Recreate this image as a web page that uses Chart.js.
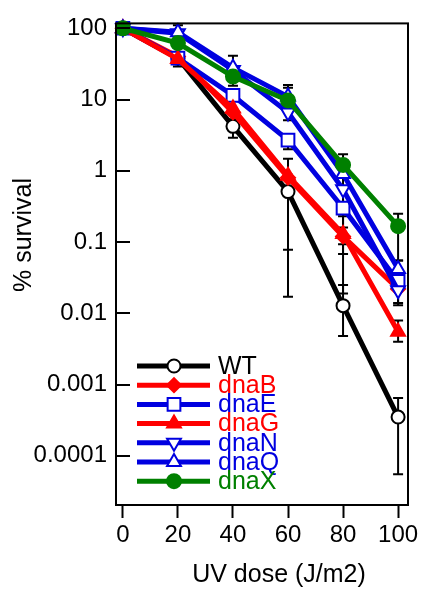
<!DOCTYPE html>
<html>
<head>
<meta charset="utf-8">
<script src="https://cdn.jsdelivr.net/npm/chart.js@4/dist/chart.umd.min.js"></script>
<style>
  html, body { margin: 0; padding: 0; background: #fff; }
  #wrap { width: 429px; height: 589px; }
</style>
</head>
<body>
<div id="wrap"><canvas id="chart"></canvas></div>
<script>
// Chart values
const doses = [0, 20, 40, 60, 80, 100];
const xTicks = [0, 20, 40, 60, 80, 100];
const yTicks = [0.0001, 0.001, 0.01, 0.1, 1, 10, 100];
const yTickLabels = ['0.0001', '0.001', '0.01', '0.1', '1', '10', '100'];

const seriesNames = ['WT', 'dnaB', 'dnaE', 'dnaG', 'dnaN', 'dnaQ', 'dnaX'];
const wt   = [100, 38, 4.2, 0.51, 0.0128, 0.00035];
const dnaB = [100, 40, 6.6, 0.8, 0.12, 0.022];
const dnaE = [100, 38, 11.4, 2.7, 0.3, 0.028];
const dnaG = [100, 37, 7.5, 0.85, 0.13, 0.0055];
const dnaN = [100, 85, 26, 6.6, 0.55, 0.021];
const dnaQ = [100, 88, 28, 11, 0.9, 0.042];
const dnaX = [100, 62, 21, 9.7, 1.21, 0.167];

// error bars [low, high] per dose
const wtErr   = [null, null, [2.9, 5.3], [0.017, 1.47], [0.0048, 0.025], [0.000055, 0.00065]];
const dnaBErr = [null, null, null, [0.078, 0.88], [0.093, 0.13], null];
const dnaEErr = [null, null, null, [2.0, 2.7], [0.16, 0.3], null];
const dnaGErr = [null, null, null, null, [0.068, 0.13], [0.004, 0.0079]];
const dnaNErr = [null, null, null, null, [0.019, 0.55], [0.013, 0.04]];
const dnaQErr = [null, [29, 110], [15.6, 41], [5.1, 16], null, [0.014, 0.055]];
const dnaXErr = [null, null, null, [9.7, 14.6], [0.23, 1.7], [0.055, 0.25]];

const FONT = '"Liberation Sans", Arial, sans-serif';
const RED = '#ff0000';
const BLUE = '#0000e0';
const GREEN = '#008000';

const styles = [
  { color: '#000000', point: 'circle', fill: '#ffffff', r: 6.5, rot: 0 },
  { color: RED, point: 'rectRot', fill: RED, r: 7, rot: 0 },
  { color: BLUE, point: 'rect', fill: '#ffffff', r: 9, rot: 0 },
  { color: RED, point: 'triangle', fill: RED, r: 8, rot: 0 },
  { color: BLUE, point: 'triangle', fill: '#ffffff', r: 8, rot: 180 },
  { color: BLUE, point: 'triangle', fill: '#ffffff', r: 8, rot: 0 },
  { color: GREEN, point: 'circle', fill: GREEN, r: 7, rot: 0 },
];
const values = [wt, dnaB, dnaE, dnaG, dnaN, dnaQ, dnaX];
const errors = [wtErr, dnaBErr, dnaEErr, dnaGErr, dnaNErr, dnaQErr, dnaXErr];

const datasets = seriesNames.map((name, i) => ({
  label: name,
  data: doses.map((d, j) => ({ x: d, y: values[i][j] })),
  borderColor: styles[i].color,
  backgroundColor: styles[i].fill,
  borderWidth: 5,
  pointStyle: styles[i].point,
  pointRadius: styles[i].r,
  pointRotation: styles[i].rot,
  pointBorderColor: styles[i].color,
  pointBackgroundColor: styles[i].fill,
  pointBorderWidth: 2,
  tension: 0,
  clip: false,
  order: seriesNames.length - i,
  errs: errors[i],
}));

// error bars, drawn behind the lines
const errorBars = {
  id: 'errorBars',
  beforeDatasetsDraw(chart) {
    const { ctx, scales: { x, y } } = chart;
    ctx.save();
    ctx.strokeStyle = '#000';
    ctx.lineWidth = 2;
    chart.data.datasets.forEach(ds => {
      ds.errs.forEach((e, j) => {
        if (!e) return;
        const px = x.getPixelForValue(doses[j]);
        const lo = y.getPixelForValue(e[0]);
        const hi = y.getPixelForValue(e[1]);
        ctx.beginPath();
        ctx.moveTo(px, lo); ctx.lineTo(px, hi);
        ctx.moveTo(px - 5, lo); ctx.lineTo(px + 5, lo);
        ctx.moveTo(px - 5, hi); ctx.lineTo(px + 5, hi);
        ctx.stroke();
      });
    });
    ctx.restore();
  }
};

// frame, inward y ticks, axis titles, legend
const decorations = {
  id: 'decorations',
  afterDraw(chart) {
    const { ctx, chartArea: a, scales: { y } } = chart;
    ctx.save();
    ctx.strokeStyle = '#000';
    ctx.lineWidth = 2;
    ctx.strokeRect(a.left, a.top, a.right - a.left, a.bottom - a.top);
    ctx.beginPath();
    yTicks.forEach(v => {
      const py = Math.round(y.getPixelForValue(v));
      ctx.moveTo(a.left, py); ctx.lineTo(a.left + 14, py);
    });
    ctx.stroke();

    ctx.fillStyle = '#000';
    ctx.font = '25px ' + FONT;
    ctx.textAlign = 'center';
    ctx.textBaseline = 'middle';
    ctx.fillText('UV dose (J/m2)', 279, 575);
    ctx.save();
    ctx.translate(24, 235);
    ctx.rotate(-Math.PI / 2);
    ctx.fillText('% survival', 0, 0);
    ctx.restore();

    // legend
    ctx.textAlign = 'left';
    ctx.font = '25px ' + FONT;
    seriesNames.forEach((name, i) => {
      const ly = 366 + i * 19.2;
      const s = styles[i];
      ctx.strokeStyle = s.color;
      ctx.lineWidth = 5;
      ctx.beginPath();
      ctx.moveTo(137, ly); ctx.lineTo(210, ly);
      ctx.stroke();
      ctx.fillStyle = s.fill;
      ctx.strokeStyle = s.color;
      ctx.lineWidth = 2;
      Chart.helpers.drawPoint(ctx, { pointStyle: s.point, radius: s.r, rotation: s.rot, borderWidth: 2 }, 174, ly);
      ctx.fillStyle = s.color;
      ctx.fillText(name, 218, ly + 1);
    });
    ctx.restore();
  }
};

new Chart(document.getElementById('chart'), {
  type: 'line',
  data: { datasets },
  options: {
    responsive: true,
    maintainAspectRatio: false,
    animation: false,
    layout: { padding: { top: 20, right: 21, left: 0, bottom: 0 } },
    plugins: { legend: { display: false }, tooltip: { enabled: false } },
    scales: {
      x: {
        type: 'linear',
        min: -2.5,
        max: 103.6,
        afterBuildTicks: s => { s.ticks = xTicks.map(v => ({ value: v })); },
        afterFit: s => { s.height = 84; },
        border: { display: false },
        grid: { drawOnChartArea: false, drawTicks: true, tickLength: 13, tickWidth: 2, tickColor: '#000' },
        ticks: { color: '#000', padding: 3, font: { size: 24, family: FONT }, maxRotation: 0 },
      },
      y: {
        type: 'logarithmic',
        min: 2.04e-5,
        max: 117,
        afterBuildTicks: s => { s.ticks = yTicks.map(v => ({ value: v })); },
        afterFit: s => { s.width = 116; },
        border: { display: false },
        grid: { drawOnChartArea: false, drawTicks: false },
        ticks: {
          color: '#000', padding: 9, font: { size: 24, family: FONT },
          callback: (v) => yTickLabels[yTicks.indexOf(v)] ?? '',
        },
      },
    },
  },
  plugins: [errorBars, decorations],
});
</script>
</body>
</html>
